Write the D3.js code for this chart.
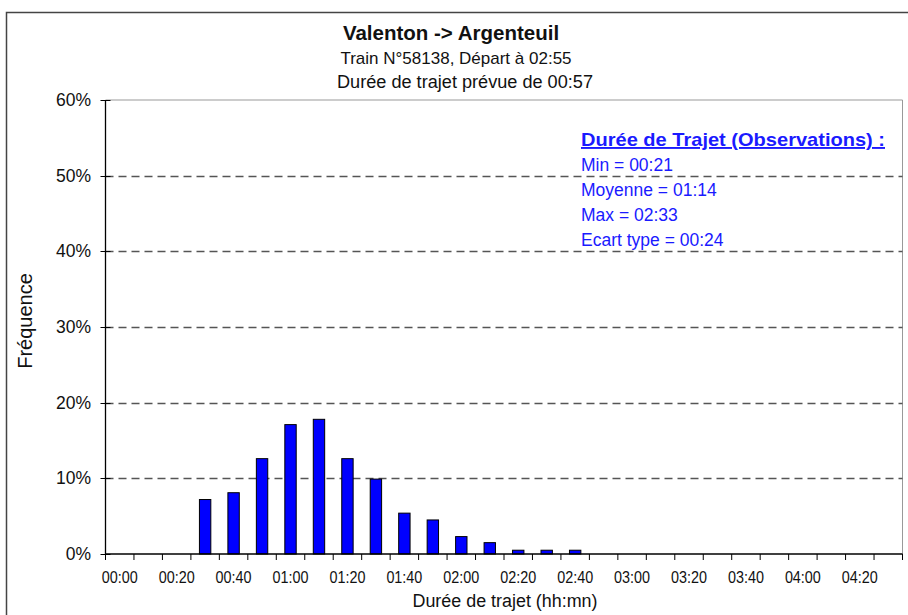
<!DOCTYPE html>
<html><head><meta charset="utf-8">
<script src="https://cdn.jsdelivr.net/npm/d3@7"></script>
<style>body{margin:0;background:#fff}svg{display:block;font-family:"Liberation Sans",Arial,sans-serif}</style>
</head><body>
<svg id="c" width="908" height="615"></svg>
<script>
const categories = ["00:00","00:10","00:20","00:30","00:40","00:50","01:00","01:10","01:20","01:30","01:40","01:50","02:00","02:10","02:20","02:30","02:40","02:50","03:00","03:10","03:20","03:30","03:40","03:50","04:00","04:10","04:20","04:30"];
const frequencies = [0,0,0,0.072,0.081,0.126,0.171,0.178,0.126,0.099,0.054,0.045,0.023,0.015,0.005,0.005,0.005,0,0,0,0,0,0,0,0,0,0,0];
const xTickLabels = ["00:00","00:20","00:40","01:00","01:20","01:40","02:00","02:20","02:40","03:00","03:20","03:40","04:00","04:20"];
const yTicks = [0,0.1,0.2,0.3,0.4,0.5,0.6];
const titleLines = ["Valenton -> Argenteuil","Train N°58138, Départ à 02:55","Durée de trajet prévue de 00:57"];
const statsTitle = "Durée de Trajet (Observations) :";
const statsLines = ["Min = 00:21","Moyenne = 01:14","Max = 02:33","Ecart type = 00:24"];

const svg = d3.select("#c");
const L=105.5, R=902.5, T=100, B=554;

svg.append("rect").attr("x",6.5).attr("y",12.5).attr("width",920).attr("height",620)
  .attr("fill","none").attr("stroke","#444").attr("stroke-width",1.5);

const x = d3.scaleBand().domain(categories).range([L,R]).paddingInner(0.6).paddingOuter(0.3);
const xb = d3.scaleBand().domain(categories).range([L,R]).padding(0);
const y = d3.scaleLinear().domain([0,0.6]).range([B,T]);

// plot border
svg.append("path").attr("d",`M${L},${T}H${R}V${B}`).attr("fill","none").attr("stroke","#999").attr("stroke-width",1);

// grid
svg.append("g").selectAll("line").data(yTicks.filter(d=>d>0&&d<0.6)).join("line")
  .attr("x1",L).attr("x2",R).attr("y1",d=>Math.round(y(d))+0.5).attr("y2",d=>Math.round(y(d))+0.5)
  .attr("stroke","#555").attr("stroke-width",1.3).attr("stroke-dasharray","8,5");

// bars
svg.append("g").selectAll("rect").data(categories.map((c,i)=>({c,v:frequencies[i]})).filter(d=>d.v>0)).join("rect")
  .attr("x",d=>x(d.c)).attr("width",x.bandwidth()).attr("y",d=>y(d.v)).attr("height",d=>B-y(d.v))
  .attr("fill","#0000ff").attr("stroke","#000").attr("stroke-width",1);

// y axis
const ya = svg.append("g");
ya.append("line").attr("x1",L).attr("x2",L).attr("y1",T).attr("y2",B).attr("stroke","#000").attr("stroke-width",1.3);
ya.selectAll(".t").data(yTicks).join("line").attr("x1",L-5).attr("x2",L+5)
  .attr("y1",d=>Math.round(y(d))+0.5).attr("y2",d=>Math.round(y(d))+0.5).attr("stroke","#000");
ya.selectAll("text").data(yTicks).join("text").attr("x",91).attr("y",d=>y(d)+6)
  .attr("text-anchor","end").attr("font-size",17.5).attr("fill","#111").text(d3.format(".0%"));

// x axis
const xa = svg.append("g");
xa.append("line").attr("x1",L).attr("x2",R).attr("y1",B).attr("y2",B).attr("stroke","#000").attr("stroke-width",1.3);
xa.selectAll(".t").data(categories.concat(["end"])).join("line")
  .attr("x1",(d,i)=>L+i*xb.step()).attr("x2",(d,i)=>L+i*xb.step()).attr("y1",B).attr("y2",B+6).attr("stroke","#000");
xa.selectAll("text").data(xTickLabels).join("text")
  .attr("x",d=>xb(d)+xb.bandwidth()/2).attr("y",B+29).attr("text-anchor","middle")
  .attr("font-size",17).attr("fill","#111").attr("textLength",36).attr("lengthAdjust","spacingAndGlyphs").text(d=>d);

// axis titles
svg.append("text").attr("x",505).attr("y",607).attr("text-anchor","middle").attr("font-size",18).attr("fill","#111")
  .attr("textLength",185).attr("lengthAdjust","spacingAndGlyphs").text("Durée de trajet (hh:mn)");
svg.append("text").attr("transform","translate(32,321) rotate(-90)").attr("text-anchor","middle").attr("font-size",20).attr("fill","#111").text("Fréquence");

// titles
svg.append("text").attr("x",451).attr("y",40).attr("text-anchor","middle").attr("font-size",20.5).attr("font-weight","bold").attr("fill","#111").text(titleLines[0]);
svg.append("text").attr("x",456).attr("y",64).attr("text-anchor","middle").attr("font-size",17).attr("fill","#111").text(titleLines[1]);
svg.append("text").attr("x",465).attr("y",88).attr("text-anchor","middle").attr("font-size",17.5).attr("fill","#111")
  .attr("textLength",256).attr("lengthAdjust","spacingAndGlyphs").text(titleLines[2]);

// stats
const st = svg.append("g").attr("fill","#1a1aff");
st.append("text").attr("x",581).attr("y",146).attr("font-size",19).attr("font-weight","bold").attr("text-decoration","underline")
  .attr("textLength",304).attr("lengthAdjust","spacingAndGlyphs").text(statsTitle);
st.selectAll(".s").data(statsLines).join("text").attr("x",581).attr("y",(d,i)=>171+i*25).attr("font-size",17.5).text(d=>d);
</script>
</body></html>
